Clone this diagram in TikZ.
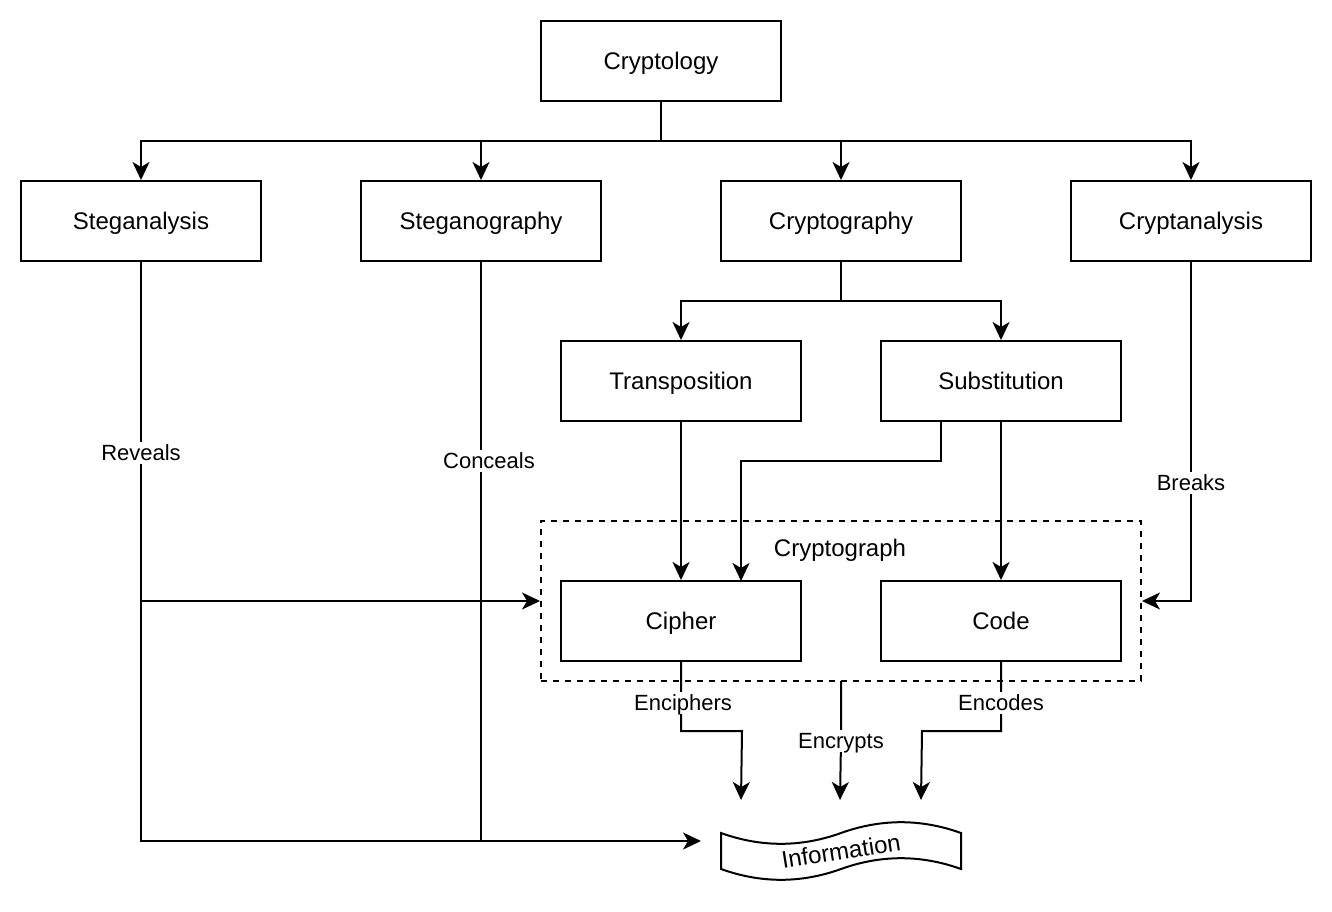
\documentclass[tikz,border=0pt]{standalone}
\usepackage{fontspec}
\setmainfont{Liberation Sans}
\usetikzlibrary{arrows.meta}
\begin{document}
\begin{tikzpicture}[x=1pt,y=-1pt,
  box/.style={draw,line width=2pt,minimum width=240pt,minimum height=80pt,inner sep=0pt,text height=17.5pt,text depth=0.5pt,font=\fontsize{24}{28}\selectfont},
  lbl/.style={fill=white,inner sep=2pt,text height=16pt,text depth=2pt,font=\fontsize{22}{26}\selectfont},
  conn/.style={line width=2pt,-{Stealth[length=18pt,width=17pt,inset=5pt]}},
  plain/.style={line width=2pt}]
\useasboundingbox (0,0) rectangle (1332,912);
% nodes
\node[box] (cryptology) at (661,61) {Cryptology};
\node[box] (steganalysis) at (141,221) {Steganalysis};
\node[box] (steganography) at (481,221) {Steganography};
\node[box] (cryptography) at (841,221) {Cryptography};
\node[box] (cryptanalysis) at (1191,221) {Cryptanalysis};
\node[box] (transposition) at (681,381) {Transposition};
\node[box] (substitution) at (1001,381) {Substitution};
\node[draw,line width=2pt,dash pattern=on 6pt off 6pt,minimum width=600pt,minimum height=160pt,inner sep=0pt] (cryptograph) at (841,601) {};
\node[text height=17.5pt,text depth=0.5pt,font=\fontsize{24}{28}\selectfont] (cgraphlabel) at (840,548) {Cryptograph};
\node[box] (cipher) at (681,621) {Cipher};
\node[box] (code) at (1001,621) {Code};
% tape
\draw[line width=2pt,fill=white] (721,833) .. controls (761,847.4) and (801,847.4) .. (841,833)
  .. controls (881,818.6) and (921,818.6) .. (961,833) -- (961,869)
  .. controls (921,854.6) and (881,854.6) .. (841,869)
  .. controls (801,883.4) and (761,883.4) .. (721,869) -- cycle;
\node[inner sep=0pt,text height=17.5pt,text depth=0.5pt,rotate=9,font=\fontsize{24}{28}\selectfont] (information) at (841,851) {Information};
% free ends
\coordinate (infoL) at (701,841);
\coordinate (infoA) at (741,800);
\coordinate (infoB) at (840,800);
\coordinate (infoC) at (921,800);
% tree
\draw[plain] (cryptology.south) -- (661,141);
\draw[conn] (661,141) -| (steganalysis.north);
\draw[conn] (661,141) -| (steganography.north);
\draw[conn] (661,141) -| (cryptography.north);
\draw[conn] (661,141) -| (cryptanalysis.north);
\draw[plain] (cryptography.south) -- (841,301);
\draw[conn] (841,301) -| (transposition.north);
\draw[conn] (841,301) -| (substitution.north);
\draw[conn] (transposition.south) -- (cipher.north);
\draw[conn] (941,421) -- (941,461) -- (741,461) -- (741,581);
\draw[conn] (substitution.south) -- (code.north);
\draw[conn] (cryptanalysis.south) |- (cryptograph.east);
\draw[conn] (steganalysis.south) |- (infoL);
\draw[conn] (141,601) -- (cryptograph.west);
\draw[plain] (steganography.south) -- (481,841);
\draw[conn] (cipher.south) -- (681,731) -- (742,731) -- (infoA);
\draw[conn] (841,681) -- (841,741) -- (infoB);
\draw[conn] (code.south) -- (1001,731) -- (922,731) -- (infoC);
% labels
\node[lbl] (lreveals) at (141,453) {Reveals};
\node[lbl] (lconceals) at (489,461) {Conceals};
\node[lbl] (lbreaks) at (1191,483) {Breaks};
\node[lbl] (lenciphers) at (683,703) {Enciphers};
\node[lbl] (lencodes) at (1001,703) {Encodes};
\node[lbl] (lencrypts) at (841,741) {Encrypts};
\end{tikzpicture}
\end{document}
